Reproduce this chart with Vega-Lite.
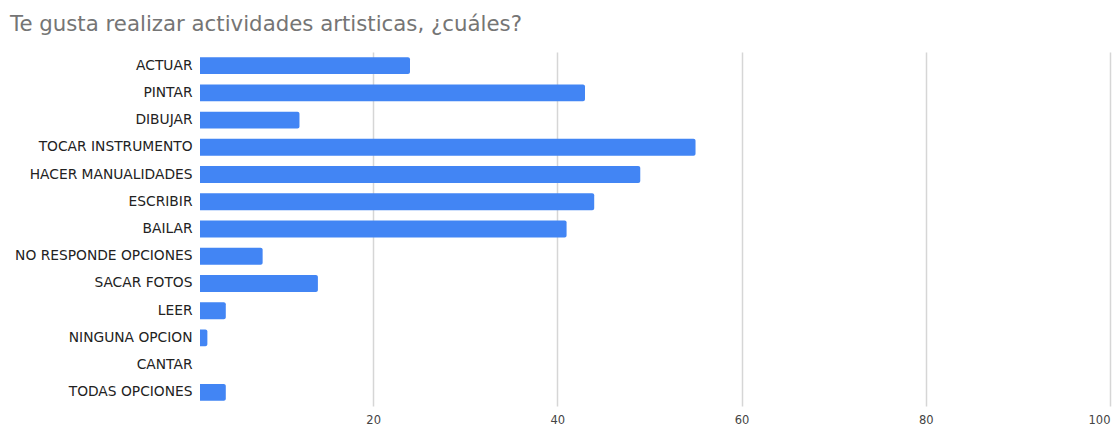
{
  "$schema": "https://vega.github.io/schema/vega-lite/v6.json",
  "autosize": {"type": "none"},
  "width": 910,
  "height": 354,
  "padding": {"left": 200, "top": 52, "right": 9, "bottom": 22},
  "background": "white",
  "title": {
    "text": "Te gusta realizar actividades artisticas, ¿cuáles?",
    "anchor": "start",
    "frame": "group",
    "dx": -190,
    "offset": 17,
    "font": "DejaVu Sans",
    "fontSize": 21.3,
    "fontWeight": "normal",
    "color": "#757575"
  },
  "data": {
    "values": [
      {"actividad": "ACTUAR", "n": 24},
      {"actividad": "PINTAR", "n": 43},
      {"actividad": "DIBUJAR", "n": 12},
      {"actividad": "TOCAR INSTRUMENTO", "n": 55},
      {"actividad": "HACER MANUALIDADES", "n": 49},
      {"actividad": "ESCRIBIR", "n": 44},
      {"actividad": "BAILAR", "n": 41},
      {"actividad": "NO RESPONDE OPCIONES", "n": 8},
      {"actividad": "SACAR FOTOS", "n": 14},
      {"actividad": "LEER", "n": 4},
      {"actividad": "NINGUNA OPCION", "n": 2},
      {"actividad": "CANTAR", "n": 1},
      {"actividad": "TODAS OPCIONES", "n": 4}
    ]
  },
  "mark": {"type": "bar", "color": "#4285F4", "cornerRadius": 2, "clip": true},
  "encoding": {
    "y": {
      "field": "actividad",
      "type": "nominal",
      "sort": null,
      "scale": {"paddingInner": 0.38, "paddingOuter": 0.19},
      "axis": {
        "title": null,
        "ticks": false,
        "domain": false,
        "labelPadding": 8,
        "labelFont": "DejaVu Sans",
        "labelFontSize": 13.8,
        "labelColor": "#222222"
      }
    },
    "x": {
      "field": "n",
      "type": "quantitative",
      "stack": null,
      "scale": {"domain": [1.2, 100], "nice": false, "zero": false},
      "axis": {
        "title": null,
        "values": [20, 40, 60, 80, 100],
        "ticks": false,
        "domain": false,
        "grid": true,
        "gridColor": "#d6d6d6",
        "gridWidth": 1.5,
        "labelPadding": 8,
        "labelFont": "DejaVu Sans",
        "labelFontSize": 11.5,
        "labelColor": "#444444"
      }
    },
    "x2": {"datum": 0}
  },
  "config": {"view": {"stroke": null}}
}
